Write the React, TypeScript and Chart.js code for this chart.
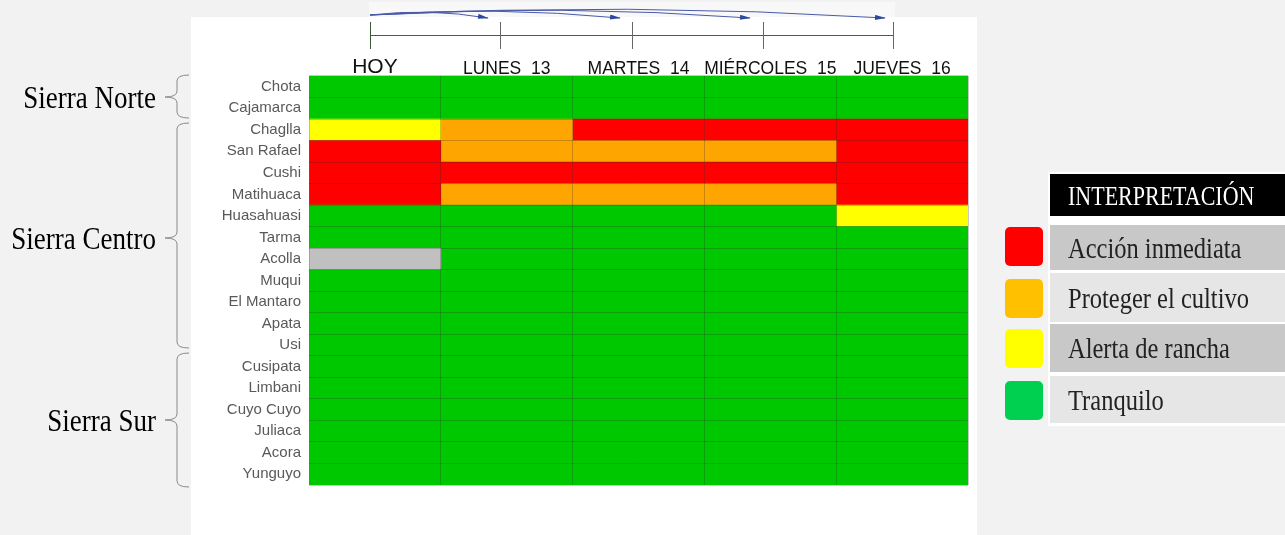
import React, { useEffect, useRef } from "react";
import { Chart, registerables } from "chart.js";

Chart.register(...registerables);

const rows = ["Chota", "Cajamarca", "Chaglla", "San Rafael", "Cushi", "Matihuaca", "Huasahuasi", "Tarma", "Acolla", "Muqui", "El Mantaro", "Apata", "Usi", "Cusipata", "Limbani", "Cuyo Cuyo", "Juliaca", "Acora", "Yunguyo"];
const days = ["HOY", "LUNES  13", "MARTES  14", "MIÉRCOLES  15", "JUEVES  16"];

// R = acción inmediata, O = proteger, Y = alerta, G = tranquilo, N = sin dato
const hoy = ["G", "G", "Y", "R", "R", "R", "G", "G", "N", "G", "G", "G", "G", "G", "G", "G", "G", "G", "G"];
const lunes13 = ["G", "G", "O", "O", "R", "O", "G", "G", "G", "G", "G", "G", "G", "G", "G", "G", "G", "G", "G"];
const martes14 = ["G", "G", "R", "O", "R", "O", "G", "G", "G", "G", "G", "G", "G", "G", "G", "G", "G", "G", "G"];
const miercoles15 = ["G", "G", "R", "O", "R", "O", "G", "G", "G", "G", "G", "G", "G", "G", "G", "G", "G", "G", "G"];
const jueves16 = ["G", "G", "R", "R", "R", "R", "Y", "G", "G", "G", "G", "G", "G", "G", "G", "G", "G", "G", "G"];
const dayStatus = [hoy, lunes13, martes14, miercoles15, jueves16];

const cellColors: Record<string, string> = { R: "#ff0000", O: "#ffa500", Y: "#ffff00", G: "#00c800", N: "#c0c0c0" };

const legendLabels = ["Acción inmediata", "Proteger el cultivo", "Alerta de rancha", "Tranquilo"];
const legendColors = ["#ff0000", "#ffc000", "#ffff00", "#00d050"];

const regions = ["Sierra Norte", "Sierra Centro", "Sierra Sur"];

const serif = "'Liberation Serif', 'Times New Roman', serif";

function bracePath(y1: number, y2: number, ym: number) {
  const xr = 189, xv = 177, xt = 165, r = 6;
  return `M ${xr} ${y1} Q ${xv} ${y1} ${xv} ${y1 + r} L ${xv} ${ym - r} Q ${xv} ${ym} ${xt} ${ym} Q ${xv} ${ym} ${xv} ${ym + r} L ${xv} ${y2 - r} Q ${xv} ${y2} ${xr} ${y2}`;
}

export default function App() {
  const ref = useRef<HTMLCanvasElement>(null);

  useEffect(() => {
    if (!ref.current) return;
    const chart = new Chart(ref.current, {
      type: "bar",
      data: {
        labels: rows,
        datasets: dayStatus.map((st, i) => ({
          label: days[i],
          data: rows.map(() => 1),
          backgroundColor: st.map((s) => cellColors[s]),
          borderWidth: 0,
          barPercentage: 1,
          categoryPercentage: 1,
        })),
      },
      options: {
        indexAxis: "y",
        animation: false,
        responsive: true,
        maintainAspectRatio: false,
        layout: { padding: { top: 0, left: 0, right: 9, bottom: 50 } },
        plugins: { legend: { display: false }, tooltip: { enabled: false } },
        scales: {
          x: {
            type: "linear",
            stacked: true,
            min: 0,
            max: 5,
            position: "bottom",
            ticks: { display: false, stepSize: 1 },
            border: { display: false },
            grid: { color: "rgba(40,40,40,0.25)", drawTicks: false, z: 1 },
          },
          xTop: {
            type: "category",
            labels: days,
            position: "top",
            offset: true,
            grid: { display: false, drawTicks: false },
            border: { display: false },
            ticks: {
              color: "#111",
              padding: -4,
              maxRotation: 0,
              autoSkip: false,
              font: (ctx: any) => ({ family: "'Liberation Sans', Arial, sans-serif", size: ctx.index === 0 ? 21 : 17.5 }),
            },
            afterFit: (s: any) => { s.height = 59; },
          },
          y: {
            type: "category",
            stacked: true,
            grid: { color: "rgba(40,40,40,0.25)", drawTicks: false, offset: true, z: 1 },
            border: { display: false },
            ticks: { color: "#595959", padding: 8, autoSkip: false, font: { family: "'Liberation Sans', Arial, sans-serif", size: 15 } },
            afterFit: (s: any) => { s.width = 118; },
          },
        },
      } as any,
    });
    return () => chart.destroy();
  }, []);

  const arrowEnds = [488, 620, 750, 885];
  const arrowCtrl = [8, 6, 4, 2];
  const tickXs = [370, 500, 632, 763, 893];
  const braces = [
    { y1: 75, y2: 118, ym: 97 },
    { y1: 123, y2: 348, ym: 238 },
    { y1: 353, y2: 487, ym: 420 },
  ];
  const rowTops = [225, 273, 324, 376];
  const rowHeights = [45, 49, 48, 47];
  const swatchTops = [227, 279, 329, 381];

  return (
    <div style={{ position: "absolute", left: 0, top: 0, width: 1285, height: 535, background: "#f2f2f2", overflow: "hidden" }}>
      <div style={{ position: "absolute", left: 369, top: 2, width: 526, height: 15, background: "#f8f8f8" }} />
      <div style={{ position: "absolute", left: 191, top: 17, width: 786, height: 518, background: "#ffffff" }}>
        <canvas ref={ref} />
      </div>
      <svg width={1285} height={535} style={{ position: "absolute", left: 0, top: 0, pointerEvents: "none" }}>
        <defs>
          <marker id="ah" viewBox="0 0 13 6" refX="12" refY="3" markerWidth="13" markerHeight="5" markerUnits="userSpaceOnUse" orient="auto">
            <path d="M0 0 L13 3 L0 6 Z" fill="#2a48a0" />
          </marker>
        </defs>
        {arrowEnds.map((e, i) => (
          <path key={i} d={`M 370 15 Q ${(370 + e) / 2} ${arrowCtrl[i]} ${e} 18`} fill="none" stroke="#4a5aa8" strokeWidth={1} markerEnd="url(#ah)" />
        ))}
        <line x1={370} y1={35.5} x2={893} y2={35.5} stroke="#555" strokeWidth={1} />
        {tickXs.map((x, i) => (
          <line key={i} x1={x + 0.5} y1={22} x2={x + 0.5} y2={49} stroke={i === 0 ? "#3a5a3a" : "#666"} strokeWidth={1} />
        ))}
        {braces.map((b, i) => (
          <path key={i} d={bracePath(b.y1, b.y2, b.ym)} fill="none" stroke="#8a8a8a" strokeWidth={1} />
        ))}
      </svg>
      {regions.map((r, i) => (
        <div key={r} style={{ position: "absolute", right: 1285 - 156, top: braces[i].ym - 18, height: 36, lineHeight: "36px", fontFamily: serif, fontSize: 27, color: "#000", whiteSpace: "nowrap", transform: "scaleY(1.2)", transformOrigin: "center" }}>{r}</div>
      ))}
      <div style={{ position: "absolute", left: 1048, top: 172, width: 237, height: 254, background: "#ffffff" }} />
      <div style={{ position: "absolute", left: 1050, top: 174, width: 235, height: 42, background: "#000" }}>
        <div style={{ position: "absolute", left: 18, top: 0, height: 44, lineHeight: "44px", color: "#fff", fontFamily: serif, fontSize: 22, whiteSpace: "nowrap", transform: "scaleY(1.22)", transformOrigin: "center" }}>INTERPRETACIÓN</div>
      </div>
      {legendLabels.map((l, i) => (
        <React.Fragment key={l}>
          <div style={{ position: "absolute", left: 1005, top: swatchTops[i], width: 38, height: 39, borderRadius: 5, background: legendColors[i] }} />
          <div style={{ position: "absolute", left: 1050, top: rowTops[i], width: 235, height: rowHeights[i], background: i % 2 === 0 ? "#c8c8c8" : "#e6e6e6" }}>
            <div style={{ position: "absolute", left: 18, top: 0, height: rowHeights[i], lineHeight: `${rowHeights[i]}px`, color: "#222", fontFamily: serif, fontSize: 24.5, whiteSpace: "nowrap", transform: "scaleY(1.2)", transformOrigin: "center" }}>{l}</div>
          </div>
        </React.Fragment>
      ))}
    </div>
  );
}
